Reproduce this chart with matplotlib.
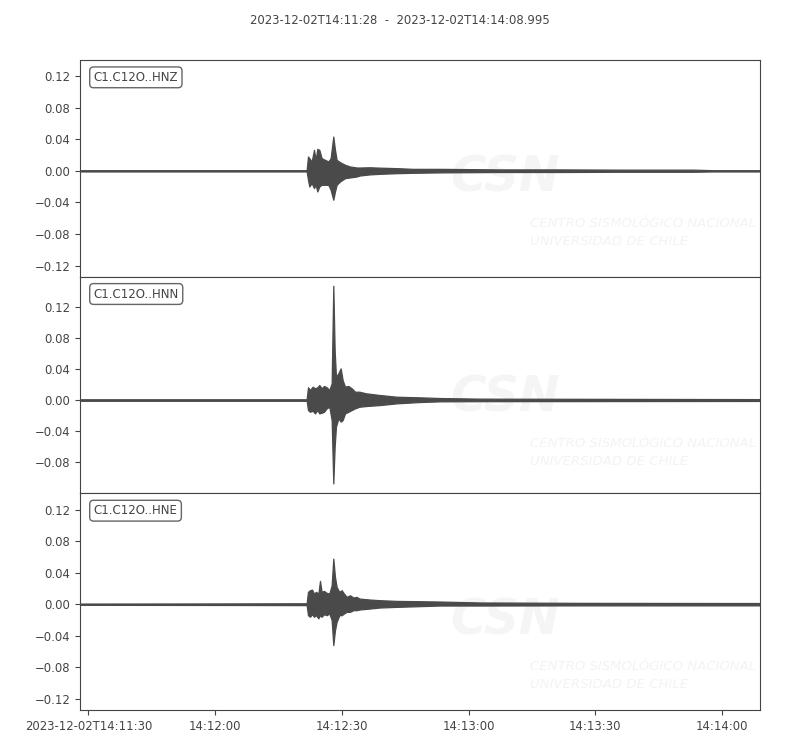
import datetime as dt
import matplotlib
matplotlib.use("Agg")
import matplotlib.pyplot as plt
import matplotlib.dates as mdates

# ---------------- data ----------------
start_time = dt.datetime(2023, 12, 2, 14, 11, 28)
duration_s = 160.995
title_text = "2023-12-02T14:11:28  -  2023-12-02T14:14:08.995"

trace_labels = ["C1.C12O..HNZ", "C1.C12O..HNN", "C1.C12O..HNE"]

# envelope of each trace: seconds after start, upper and lower amplitude
t_hnz = [0, 53.66, 53.98, 54.29, 54.85, 55.40, 55.79, 56.19, 56.66, 57.21, 58.00,
         58.79, 59.34, 59.97, 60.37, 60.76, 61.55, 62.74, 63.92, 65.50, 66.29,
         68.66, 71.02, 74.97, 78.83, 85.23, 99.4, 113.6, 127.8, 145.1, 150.0, 160.995]
up_hnz = [0.0008, 0.0008, 0.0181, 0.0160, 0.0118, 0.0265, 0.0139, 0.0278, 0.0265, 0.0160, 0.0139,
          0.0118, 0.0160, 0.0434, 0.0265, 0.0139, 0.0110, 0.0076, 0.0055, 0.0042, 0.0042,
          0.0045, 0.0040, 0.0034, 0.0025, 0.0025, 0.0018, 0.0018, 0.0015, 0.0015, 0.0008, 0.0008]
lo_hnz = [-0.0008, -0.0008, -0.0114, -0.0198, -0.0156, -0.0219, -0.0177, -0.0261, -0.0198, -0.0177, -0.0177,
          -0.0177, -0.0240, -0.0366, -0.0261, -0.0177, -0.0135, -0.0093, -0.0084, -0.0072, -0.0059,
          -0.0045, -0.0038, -0.0030, -0.0025, -0.0020, -0.0015, -0.0015, -0.0012, -0.0012, -0.0008, -0.0008]

t_hnn = [0, 53.66, 53.98, 54.45, 55.08, 55.64, 56.19, 56.66, 57.21, 57.77, 58.40,
         59.03, 59.58, 59.97, 60.29, 60.60, 61.16, 61.71, 62.18, 62.74, 63.53,
         64.32, 65.11, 66.13, 67.71, 71.02, 74.97, 80.4, 85.2, 94.7, 160.995]
up_hnn = [0.0010, 0.0010, 0.0165, 0.0130, 0.0173, 0.0152, 0.0165, 0.0195, 0.0152, 0.0182, 0.0165,
          0.0130, 0.0216, 0.1480, 0.0650, 0.0300, 0.0346, 0.0410, 0.0260, 0.0173, 0.0182,
          0.0152, 0.0108, 0.0108, 0.0087, 0.0065, 0.0043, 0.0035, 0.0026, 0.0018, 0.0012]
lo_hnn = [-0.0010, -0.0010, -0.0130, -0.0152, -0.0139, -0.0173, -0.0130, -0.0173, -0.0165, -0.0152, -0.0108,
          -0.0087, -0.0260, -0.1080, -0.0606, -0.0346, -0.0238, -0.0280, -0.0260, -0.0173, -0.0152,
          -0.0130, -0.0108, -0.0087, -0.0078, -0.0065, -0.0043, -0.0026, -0.0017, -0.0015, -0.0012]

t_hne = [0, 35.0, 53.66, 53.98, 54.45, 54.93, 55.40, 55.87, 56.43, 56.82, 57.21, 57.77,
         58.40, 59.03, 59.58, 59.97, 60.37, 60.76, 61.39, 61.95, 62.50, 63.13,
         63.92, 64.71, 65.50, 66.13, 68.66, 71.02, 74.97, 80.4, 85.2, 94.7, 120.0, 160.995]
up_hne = [0.0008, 0.0010, 0.0012, 0.0157, 0.0178, 0.0186, 0.0135, 0.0157, 0.0135, 0.0296, 0.0157, 0.0169,
          0.0144, 0.0135, 0.0240, 0.0580, 0.0347, 0.0220, 0.0157, 0.0178, 0.0135, 0.0093,
          0.0114, 0.0085, 0.0093, 0.0072, 0.0059, 0.0051, 0.0042, 0.0038, 0.0034, 0.0022, 0.0017, 0.0015]
lo_hne = [-0.0008, -0.0010, -0.0012, -0.0140, -0.0160, -0.0127, -0.0160, -0.0140, -0.0180, -0.0140, -0.0160, -0.0127,
          -0.0140, -0.0118, -0.0200, -0.0520, -0.0330, -0.0224, -0.0140, -0.0140, -0.0118, -0.0097,
          -0.0097, -0.0076, -0.0076, -0.0068, -0.0055, -0.0042, -0.0034, -0.0025, -0.0017, -0.0017, -0.0015, -0.0015]

y_limits = [(-0.1339, 0.1402), (-0.1208, 0.1597), (-0.1346, 0.1410)]
y_ticks = [[-0.12, -0.08, -0.04, 0.0, 0.04, 0.08, 0.12],
           [-0.08, -0.04, 0.0, 0.04, 0.08, 0.12],
           [-0.12, -0.08, -0.04, 0.0, 0.04, 0.08, 0.12]]

x_tick_times = ["14:11:30", "14:12:00", "14:12:30", "14:13:00", "14:13:30", "14:14:00"]
x_tick_labels = ["2023-12-02T14:11:30", "14:12:00", "14:12:30", "14:13:00", "14:13:30", "14:14:00"]

watermark_big = "CSN"
watermark_line1 = "CENTRO SISMOLÓGICO NACIONAL"
watermark_line2 = "UNIVERSIDAD DE CHILE"

# ---------------- drawing ----------------
TXT = "#444444"
TRACE = "#4a4a4a"
plt.rcParams["font.family"] = ["DejaVu Sans"]
plt.rcParams["font.size"] = 8.4
plt.rcParams["text.color"] = TXT
plt.rcParams["axes.edgecolor"] = TXT
plt.rcParams["xtick.color"] = TXT
plt.rcParams["ytick.color"] = TXT


def to_dates(secs):
    return [mdates.date2num(start_time + dt.timedelta(seconds=s)) for s in secs]


def fmt_tick(v):
    if abs(v) < 1e-12:
        return "0.00"
    s = f"{abs(v):.2f}"
    return ("\u2212" + s) if v < 0 else s


fig = plt.figure(figsize=(8, 7.5), dpi=100)
axes = fig.subplots(3, 1, sharex=True)
fig.subplots_adjust(left=0.1, right=0.95, top=0.92, bottom=0.0533, hspace=0)

traces = [(t_hnz, up_hnz, lo_hnz), (t_hnn, up_hnn, lo_hnn), (t_hne, up_hne, lo_hne)]
wm_y = [0.456, 0.442, 0.415]

for i, ax in enumerate(axes):
    t, up, lo = traces[i]
    x = to_dates(t)
    ax.fill_between(x, lo, up, color=TRACE, linewidth=0.9, edgecolor=TRACE, zorder=3)
    ax.set_ylim(*y_limits[i])
    ax.set_yticks(y_ticks[i])
    ax.set_yticklabels([fmt_tick(v) for v in y_ticks[i]])
    for s in ax.spines.values():
        s.set_color(TXT)
    # faint watermark
    ax.text(0.625, wm_y[i], watermark_big, transform=ax.transAxes, ha="center", va="center",
            fontsize=35, fontweight="bold", style="italic", color="#f5f5f5", zorder=0)
    ax.text(0.662, wm_y[i] - 0.212, watermark_line1, transform=ax.transAxes, ha="left", va="center",
            fontsize=9.5, style="italic", color="#f3f3f3", zorder=0)
    ax.text(0.662, wm_y[i] - 0.295, watermark_line2, transform=ax.transAxes, ha="left", va="center",
            fontsize=9.5, style="italic", color="#f3f3f3", zorder=0)
    ax.text(0.02, 0.95, trace_labels[i], transform=ax.transAxes, ha="left", va="top",
            fontsize=8.5, color=TXT, zorder=5,
            bbox=dict(boxstyle="round,pad=0.33", fc="white", ec="#555555", lw=1.0, alpha=0.9))
    if i < 2:
        ax.tick_params(axis="x", bottom=False, labelbottom=False)

tick_pos = [mdates.date2num(dt.datetime.combine(start_time.date(),
                                                dt.datetime.strptime(s, "%H:%M:%S").time()))
            for s in x_tick_times]
axes[-1].set_xlim(to_dates([0, duration_s]))
axes[-1].set_xticks(tick_pos)
axes[-1].set_xticklabels(x_tick_labels)

fig.suptitle(title_text, y=0.982, fontsize=8.4, color=TXT)
fig.savefig("out.png", dpi=100, facecolor="white")
